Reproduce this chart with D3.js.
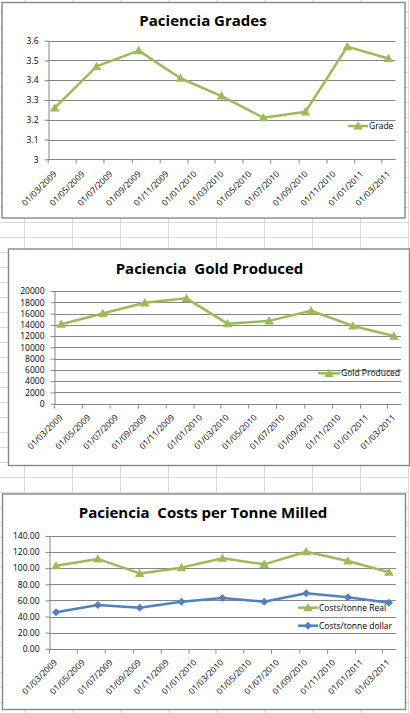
<!DOCTYPE html>
<html><head><meta charset="utf-8">
<script src="https://cdn.jsdelivr.net/npm/d3@7"></script>
<style>
body{margin:0;background:#fff;}
svg{display:block;}
text{font-family:"Open Sans",sans-serif;fill:#000;}
</style>
</head><body>
<svg id="c" width="410" height="713"></svg>
<script>
// ---- data ----
const tickLabels = ["01/03/2009","01/05/2009","01/07/2009","01/09/2009","01/11/2009","01/01/2010","01/03/2010","01/05/2010","01/07/2010","01/09/2010","01/11/2010","01/01/2011","01/03/2011"];
const months = ["03/2009","06/2009","09/2009","12/2009","03/2010","06/2010","09/2010","12/2010","03/2011"];
const grade = [3.26, 3.47, 3.55, 3.41, 3.32, 3.21, 3.24, 3.57, 3.51];
const goldProduced = [14100, 16000, 17900, 18700, 14200, 14700, 16500, 13800, 12000];
const costsReal = [103, 111.5, 93.5, 100.7, 112.3, 104.8, 120.5, 109, 95];
const costsDollar = [45.2, 54.3, 51, 58.4, 63, 58.4, 68.8, 63.8, 57.2];
const gradeTicks = [3, 3.1, 3.2, 3.3, 3.4, 3.5, 3.6];
const goldTicks = [0, 2000, 4000, 6000, 8000, 10000, 12000, 14000, 16000, 18000, 20000];
const costTicks = [0, 20, 40, 60, 80, 100, 120, 140];

const GREEN = "#9BBB59", BLUE = "#4F81BD", GRID = "#868686";
const parseDay = d3.timeParse("%d/%m/%Y");
const parseMonth = d3.timeParse("%m/%Y");
const fmtDay = d3.timeFormat("%d/%m/%Y");
const tickDates = tickLabels.map(parseDay);
const monthDates = months.map(parseMonth);

const svg = d3.select("#c");

// ---- spreadsheet background grid ----
const bg = svg.append("g");
for (let x = 24; x < 410; x += 48) bg.append("line").attr("x1", x + .5).attr("x2", x + .5).attr("y1", 0).attr("y2", 713).attr("stroke", "#d9d9d9");
for (let y = 12; y < 713; y += 15) bg.append("line").attr("y1", y + .5).attr("y2", y + .5).attr("x1", 0).attr("x2", 410).attr("stroke", "#d9d9d9");

const charts = [
  { box: [2, 2.5, 403, 215.5], plot: {l: 47.7, r: 395.5, t: 40.7, b: 159.3},
    title: "Paciencia Grades", titleX: 203, titleY: 25.5,
    yDomain: [3, 3.6], yTicks: gradeTicks, yFmt: d => String(+d.toFixed(1)),
    lab: [7, 13],
    series: [{name: "Grade", values: grade, color: GREEN, sym: "tri", legend: [348, 368, 126]}] },
  { box: [8.5, 249, 401, 216.5], plot: {l: 54, r: 401, t: 291, b: 403.7},
    title: "Paciencia  Gold Produced", titleX: 209.5, titleY: 274,
    yDomain: [0, 20000], yTicks: goldTicks, yFmt: d3.format("d"),
    lab: [6.5, 11.5],
    series: [{name: "Gold Produced", values: goldProduced, color: GREEN, sym: "tri", legend: [318, 340, 373.3]}] },
  { box: [2.5, 494, 403, 215.5], plot: {l: 49, r: 396, t: 536, b: 648.7},
    title: "Paciencia  Costs per Tonne Milled", titleX: 203, titleY: 518,
    yDomain: [0, 140], yTicks: costTicks, yFmt: d3.format(".2f"),
    lab: [6, 11.5],
    series: [
      {name: "Costs/tonne Real", values: costsReal, color: GREEN, sym: "tri", legend: [298, 318, 607.7]},
      {name: "Costs/tonne dollar", values: costsDollar, color: BLUE, sym: "dia", legend: [298, 318, 625.7]}
    ] }
];

function marker(g, sym, color, x, y) {
  if (sym === "tri") {
    g.append("path").attr("d", d3.symbol(d3.symbolTriangle, 40)()).attr("fill", color)
      .attr("transform", `translate(${x},${y + 0.8})`);
  } else {
    g.append("path").attr("d", d3.symbol(d3.symbolSquare, 32)()).attr("fill", color)
      .attr("transform", `translate(${x},${y}) rotate(45)`);
  }
}

charts.forEach(c => {
  const g = svg.append("g");
  const [bx, by, bw, bh] = c.box;
  g.append("rect").attr("x", bx).attr("y", by).attr("width", bw).attr("height", bh)
    .attr("fill", "#fff").attr("stroke", "#878787").attr("stroke-width", 1.4);

  g.append("text").attr("x", c.titleX).attr("y", c.titleY).attr("text-anchor", "middle")
    .style("font-weight", "bold").style("font-size", "15px").style("white-space", "pre").text(c.title);

  const p = c.plot;
  const x = d3.scaleTime()
    .domain([tickDates[0], d3.timeMonth.offset(tickDates[tickDates.length - 1], 1)])
    .range([p.l, p.r]);
  const y = d3.scaleLinear().domain(c.yDomain).range([p.b, p.t]);
  const midX = d => (x(d) + x(d3.timeMonth.offset(d, 1))) / 2;

  // gridlines
  g.append("g").selectAll("line").data(c.yTicks).join("line")
    .attr("x1", p.l).attr("x2", p.r)
    .attr("y1", d => Math.round(y(d)) + .5).attr("y2", d => Math.round(y(d)) + .5)
    .attr("stroke", GRID).attr("stroke-width", 1);

  // y axis
  const ya = g.append("g").attr("transform", `translate(${Math.round(p.l) + .5},0)`)
    .call(d3.axisLeft(y).tickValues(c.yTicks).tickSize(4).tickSizeOuter(0).tickPadding(6).tickFormat(c.yFmt));
  ya.selectAll("path,line").attr("stroke", GRID);
  ya.selectAll("text").style("font-size", "8.5px").attr("fill", "#000").style("font-family", '"Open Sans",sans-serif');

  // x axis
  const xa = g.append("g").attr("transform", `translate(0,${Math.round(p.b) + .5})`)
    .call(d3.axisBottom(x).tickValues(tickDates).tickSize(4).tickSizeOuter(0).tickFormat(fmtDay));
  xa.select(".domain").attr("d", `M${p.l},0H${p.r}`);
  xa.selectAll("path,line").attr("stroke", GRID);
  xa.selectAll("text").style("font-size", "8.5px").attr("fill", "#000").style("font-family", '"Open Sans",sans-serif')
    .attr("x", 0).attr("y", 0).attr("dy", "0.35em").style("text-anchor", "end")
    .attr("transform", `translate(${c.lab[0]},${c.lab[1]}) rotate(-45)`);

  // series
  c.series.forEach(s => {
    const pts = s.values.map((v, i) => [midX(monthDates[i]), y(v)]);
    g.append("path").attr("d", d3.line()(pts)).attr("fill", "none")
      .attr("stroke", s.color).attr("stroke-width", 2.5).attr("stroke-linejoin", "round");
    pts.forEach(pt => marker(g, s.sym, s.color, pt[0], pt[1]));
    // legend
    const [lx1, lx2, ly] = s.legend;
    g.append("line").attr("x1", lx1).attr("x2", lx2).attr("y1", ly).attr("y2", ly)
      .attr("stroke", s.color).attr("stroke-width", 2.5);
    marker(g, s.sym, s.color, (lx1 + lx2) / 2, ly);
    g.append("text").attr("x", lx2 + 1).attr("y", ly).attr("dy", "0.35em")
      .style("font-size", "8.5px").text(s.name);
  });
});
</script>
</body></html>
